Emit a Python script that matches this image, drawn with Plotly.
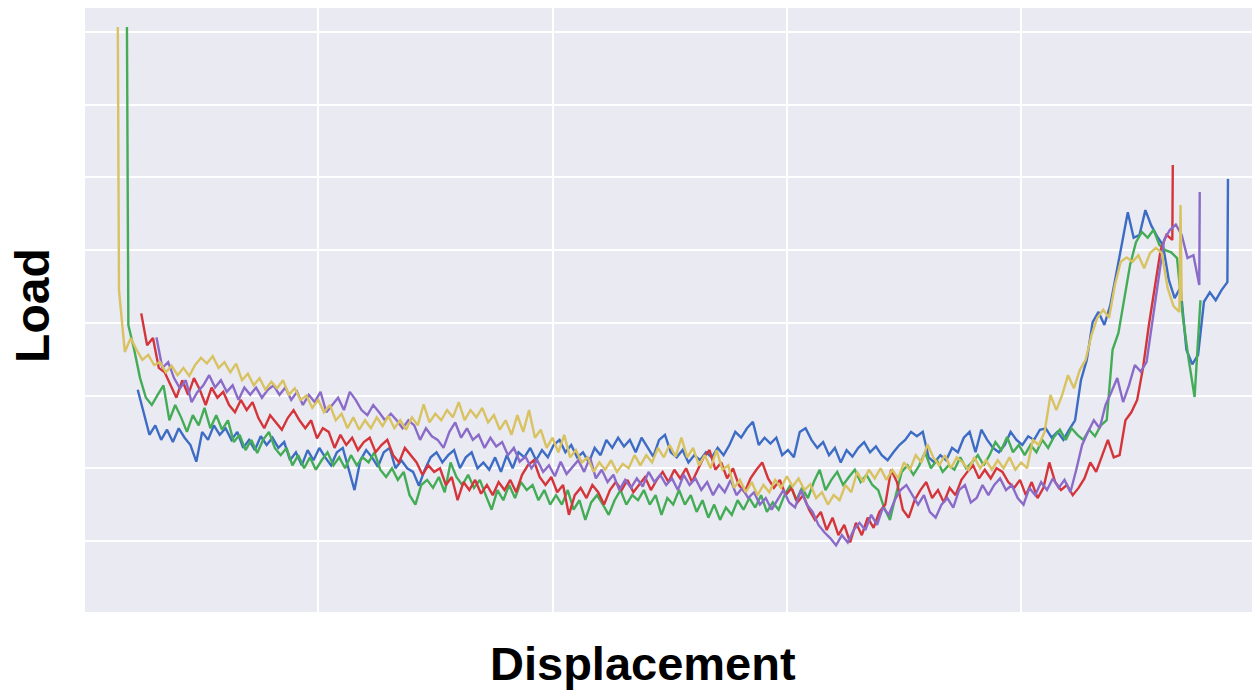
import plotly.graph_objects as go

# Sampling step of the displacement channel (mm)
STEP = 0.025

# ---------------- data (load values) ----------------
blue_x0 = 0.23
blue_load = [3.08, 2.77, 2.46, 2.59, 2.39, 2.53, 2.36, 2.55, 2.42, 2.32, 2.09, 2.50, 2.39, 2.59, 2.46, 2.55,
             2.39, 2.50, 2.28, 2.39, 2.25, 2.44, 2.32, 2.42, 2.28, 2.36, 2.11, 2.22, 2.04, 2.25, 2.11, 2.28,
             2.15, 2.04, 2.22, 2.28, 1.98, 1.70, 2.11, 2.25, 2.15, 2.02, 2.22, 2.28, 2.00, 2.11, 2.00, 1.95,
             1.76, 1.98, 2.15, 2.22, 2.08, 2.18, 2.25, 2.00, 2.15, 2.22, 2.00, 2.08, 1.98, 2.15, 1.95, 2.18,
             2.00, 2.22, 2.15, 2.28, 2.11, 2.25, 2.15, 2.32, 2.39, 2.22, 2.32, 2.15, 2.22, 2.08, 2.28, 2.18,
             2.39, 2.28, 2.42, 2.30, 2.39, 2.22, 2.42, 2.28, 2.16, 2.39, 2.46, 2.22, 2.15, 2.25, 2.08, 2.18,
             2.11, 2.22, 2.15, 2.28, 2.18, 2.32, 2.50, 2.42, 2.55, 2.64, 2.32, 2.42, 2.34, 2.42, 2.18, 2.25,
             2.15, 2.50, 2.55, 2.39, 2.28, 2.36, 2.18, 2.28, 2.08, 2.25, 2.16, 2.28, 2.36, 2.22, 2.30, 2.18,
             2.11, 2.22, 2.32, 2.39, 2.50, 2.44, 2.50, 2.15, 2.08, 2.18, 2.11, 2.28, 2.22, 2.42, 2.50, 2.22,
             2.53, 2.39, 2.28, 2.22, 2.32, 2.50, 2.39, 2.32, 2.44, 2.39, 2.53, 2.55, 2.42, 2.50, 2.39, 2.53,
             2.66, 3.21, 3.49, 4.01, 4.15, 3.97, 4.24, 4.66, 5.07, 5.52, 5.17, 5.21, 5.55, 5.34, 5.19, 5.07,
             4.59, 4.34, 4.49, 3.63, 3.43, 3.56, 4.29, 4.42, 4.31, 4.45, 4.56]
blue_tail_x = [4.8825]
blue_tail_load = [5.98]

green_head_x = [0.184]
green_head_load = [8.07]
green_x0 = 0.19
green_load = [3.97, 3.63, 3.24, 2.97, 2.87, 3.01, 3.14, 2.66, 2.87, 2.70, 2.50, 2.73, 2.59, 2.83, 2.55, 2.73,
              2.53, 2.66, 2.36, 2.46, 2.25, 2.39, 2.21, 2.39, 2.50, 2.28, 2.18, 2.28, 2.04, 2.18, 2.00, 2.15,
              1.98, 2.11, 2.22, 2.04, 2.15, 2.00, 2.18, 2.04, 2.15, 2.08, 2.22, 1.98, 1.88, 2.00, 1.84, 1.95,
              1.63, 1.50, 1.77, 1.84, 1.73, 1.88, 1.67, 2.08, 1.88, 1.77, 1.91, 1.73, 1.84, 1.63, 1.43, 1.70,
              1.56, 1.77, 1.59, 1.81, 1.70, 1.77, 1.56, 1.70, 1.50, 1.63, 1.50, 1.70, 1.43, 1.56, 1.29, 1.53,
              1.63, 1.50, 1.36, 1.56, 1.70, 1.50, 1.63, 1.56, 1.70, 1.50, 1.63, 1.36, 1.59, 1.50, 1.70, 1.50,
              1.63, 1.40, 1.56, 1.32, 1.50, 1.29, 1.46, 1.36, 1.56, 1.43, 1.59, 1.46, 1.63, 1.40, 1.53, 1.43,
              1.63, 1.77, 1.56, 1.73, 1.59, 1.81, 1.98, 1.70, 1.84, 1.95, 1.77, 1.88, 1.98, 1.81, 1.91, 1.77,
              1.70, 1.46, 1.29, 1.63, 1.95, 2.04, 1.91, 2.04, 2.22, 2.00, 2.11, 1.95, 2.04, 1.98, 2.15, 2.00,
              2.08, 2.18, 2.04, 2.18, 2.36, 2.25, 2.43, 2.22, 2.32, 2.18, 2.32, 2.22, 2.39, 2.28, 2.43, 2.53,
              2.39, 2.55, 2.46, 2.39, 2.53, 2.44, 2.59, 2.66, 3.63, 3.86, 4.31, 4.80, 5.11, 5.25, 5.17, 5.28,
              5.07, 5.00, 4.97, 4.89, 4.08, 3.49, 2.98, 4.31]

red_x0 = 0.245
red_load = [4.13, 3.69, 3.79, 3.38, 3.32, 3.14, 2.97, 3.21, 3.01, 3.24, 3.08, 2.87, 3.11, 2.97, 3.05, 2.87,
            2.77, 2.94, 2.80, 2.91, 2.69, 2.55, 2.73, 2.63, 2.53, 2.69, 2.80, 2.66, 2.55, 2.66, 2.41, 2.55,
            2.50, 2.28, 2.46, 2.32, 2.42, 2.25, 2.36, 2.42, 2.22, 2.32, 2.39, 2.18, 2.08, 2.28, 2.18, 2.08,
            1.91, 2.04, 1.95, 2.00, 1.77, 1.88, 1.56, 1.81, 1.70, 1.84, 1.65, 1.77, 1.63, 1.81, 1.70, 1.84,
            1.67, 1.91, 2.04, 2.11, 1.88, 1.77, 1.88, 1.67, 1.77, 1.36, 1.63, 1.73, 1.59, 1.77, 1.67, 1.50,
            1.70, 1.81, 1.70, 1.84, 1.67, 1.77, 1.88, 1.70, 1.84, 1.95, 1.81, 1.98, 1.86, 2.00, 1.81, 1.98,
            2.15, 2.25, 1.98, 2.08, 1.86, 2.00, 1.77, 1.67, 1.86, 1.98, 2.08, 1.86, 1.73, 1.84, 1.63, 1.73,
            1.53, 1.63, 1.43, 1.29, 1.40, 1.15, 1.32, 1.08, 1.22, 0.98, 1.25, 1.08, 1.32, 1.18, 1.40, 1.50,
            1.98, 1.81, 1.43, 1.32, 1.56, 1.70, 1.81, 1.59, 1.70, 1.53, 1.73, 1.63, 1.84, 1.95, 2.04, 1.86,
            1.98, 1.86, 2.00, 1.95, 1.81, 1.73, 1.84, 1.63, 1.81, 1.59, 1.73, 2.08, 1.81, 1.70, 1.77, 1.63,
            1.73, 1.86, 2.08, 1.95, 2.18, 2.39, 2.15, 2.18, 2.66, 2.77, 2.94, 3.38, 3.97, 4.52, 5.00, 5.21,
            5.14]
red_tail_x = [4.647]
red_tail_load = [6.17]

purple_x0 = 0.31
purple_load = [3.80, 3.38, 3.46, 3.24, 3.10, 3.21, 2.91, 3.05, 3.14, 3.28, 3.11, 3.21, 3.05, 3.14, 2.94, 3.11,
               3.01, 3.11, 2.97, 3.08, 3.14, 3.01, 3.11, 2.94, 3.05, 2.87, 3.01, 2.91, 3.05, 2.77, 2.87, 2.97,
               2.80, 3.05, 2.94, 2.80, 2.73, 2.87, 2.77, 2.66, 2.75, 2.66, 2.55, 2.66, 2.59, 2.39, 2.55, 2.44,
               2.39, 2.28, 2.50, 2.63, 2.42, 2.55, 2.39, 2.46, 2.28, 2.42, 2.30, 2.36, 2.18, 2.28, 2.09, 2.16,
               2.00, 2.11, 1.95, 2.04, 1.89, 2.09, 1.92, 2.02, 2.11, 1.95, 2.15, 1.86, 1.98, 1.81, 1.91, 1.70,
               1.84, 1.73, 1.86, 1.75, 1.95, 1.81, 1.91, 1.77, 1.86, 1.70, 1.91, 1.77, 1.86, 1.70, 1.81, 1.63,
               1.77, 1.67, 1.84, 1.63, 1.73, 1.59, 1.67, 1.50, 1.59, 1.43, 1.56, 1.70, 1.53, 1.46, 1.70, 1.50,
               1.40, 1.22, 1.12, 1.04, 0.94, 1.08, 0.98, 1.15, 1.25, 1.15, 1.36, 1.22, 1.46, 1.36, 1.56, 1.70,
               1.77, 1.63, 1.50, 1.63, 1.40, 1.32, 1.50, 1.59, 1.46, 1.70, 1.77, 1.53, 1.59, 1.77, 1.63, 1.77,
               1.86, 1.70, 1.77, 1.59, 1.50, 1.73, 1.63, 1.81, 1.70, 1.86, 1.73, 1.84, 1.67, 1.98, 2.32, 2.50,
               2.66, 2.55, 2.87, 3.05, 3.24, 2.91, 3.14, 3.42, 3.33, 3.46, 4.04, 4.59, 5.14, 5.28, 5.35, 5.21,
               4.89, 4.93, 4.52]
purple_tail_x = [4.762]
purple_tail_load = [5.80]

yellow_head_x = [0.145]
yellow_head_load = [8.07]
yellow_x0 = 0.15
yellow_load = [4.45, 3.60, 3.79, 3.63, 3.49, 3.56, 3.42, 3.46, 3.32, 3.41, 3.28, 3.38, 3.27, 3.42, 3.52, 3.44,
               3.54, 3.38, 3.46, 3.32, 3.44, 3.21, 3.30, 3.14, 3.24, 3.08, 3.19, 3.10, 3.21, 3.01, 3.10, 2.94,
               3.00, 2.83, 2.94, 2.77, 2.87, 2.66, 2.75, 2.55, 2.70, 2.53, 2.66, 2.55, 2.70, 2.58, 2.72, 2.55,
               2.66, 2.53, 2.70, 2.59, 2.88, 2.63, 2.75, 2.66, 2.80, 2.70, 2.91, 2.66, 2.80, 2.70, 2.83, 2.63,
               2.73, 2.53, 2.66, 2.46, 2.73, 2.50, 2.80, 2.42, 2.53, 2.28, 2.42, 2.22, 2.46, 2.15, 2.25, 2.08,
               2.15, 1.95, 2.08, 1.98, 2.11, 1.95, 2.06, 2.00, 2.18, 2.04, 2.18, 2.08, 2.28, 2.15, 2.32, 2.16,
               2.42, 2.15, 2.28, 2.04, 2.18, 2.00, 2.25, 1.98, 2.04, 1.73, 1.84, 1.67, 1.81, 1.63, 1.77, 1.67,
               1.84, 1.73, 1.89, 1.75, 1.86, 1.70, 1.78, 1.59, 1.67, 1.50, 1.63, 1.56, 1.77, 1.67, 1.95, 1.81,
               1.98, 1.86, 2.00, 1.84, 1.98, 1.86, 2.08, 1.98, 2.18, 2.08, 2.33, 2.15, 2.04, 2.18, 2.00, 2.15,
               2.08, 1.98, 2.15, 2.00, 2.11, 1.98, 2.11, 2.00, 2.15, 1.98, 2.08, 2.00, 2.39, 2.32, 2.50, 3.01,
               2.80, 3.01, 3.28, 3.10, 3.35, 3.49, 3.83, 4.07, 4.18, 4.07, 4.52, 4.84, 4.90, 4.84, 4.93, 4.75,
               4.96, 5.03, 4.96, 4.48, 4.23, 4.15]
yellow_tail_x = [4.68, 4.685]
yellow_tail_load = [5.62, 4.30]

COLORS = {
    "blue": "#3d6cc4",
    "green": "#44ac56",
    "red": "#d4353a",
    "purple": "#8a6cc8",
    "yellow": "#d8c261",
}


def sample_x(x0, n):
    return [round(x0 + i * STEP, 4) for i in range(n)]


series = [
    ("blue", [], [], blue_x0, blue_load, blue_tail_x, blue_tail_load),
    ("green", green_head_x, green_head_load, green_x0, green_load, [], []),
    ("red", [], [], red_x0, red_load, red_tail_x, red_tail_load),
    ("purple", [], [], purple_x0, purple_load, purple_tail_x, purple_tail_load),
    ("yellow", yellow_head_x, yellow_head_load, yellow_x0, yellow_load, yellow_tail_x, yellow_tail_load),
]

fig = go.Figure()
for name, hx, hy, x0, ys, tx, ty in series:
    fig.add_trace(go.Scatter(
        x=hx + sample_x(x0, len(ys)) + tx,
        y=hy + ys + ty,
        mode="lines",
        line=dict(color=COLORS[name], width=2.4),
        name=name,
        hoverinfo="skip",
    ))

axis_common = dict(
    showgrid=True, gridcolor="white", gridwidth=1.6,
    showticklabels=False, ticks="", zeroline=False, showline=False,
    tick0=0, dtick=1,
)

fig.update_layout(
    width=1257, height=690,
    margin=dict(l=85, r=5, t=8, b=78),
    paper_bgcolor="white",
    plot_bgcolor="#EAEAF2",
    showlegend=False,
    xaxis=dict(range=[0.005, 4.985], **axis_common),
    yaxis=dict(range=[0.023, 8.33], **axis_common),
    font=dict(family="Liberation Sans, Arial, sans-serif", color="black"),
    annotations=[
        dict(text="<b>Displacement</b>", xref="paper", yref="paper",
             x=0.478, y=-0.0845, xanchor="center", yanchor="middle",
             showarrow=False, font=dict(size=47, color="black")),
        dict(text="<b>Load</b>", xref="paper", yref="paper",
             x=-0.0446, y=0.5083, xanchor="center", yanchor="middle",
             textangle=-90, showarrow=False, font=dict(size=48, color="black")),
    ],
)

fig.write_html("out.html")
